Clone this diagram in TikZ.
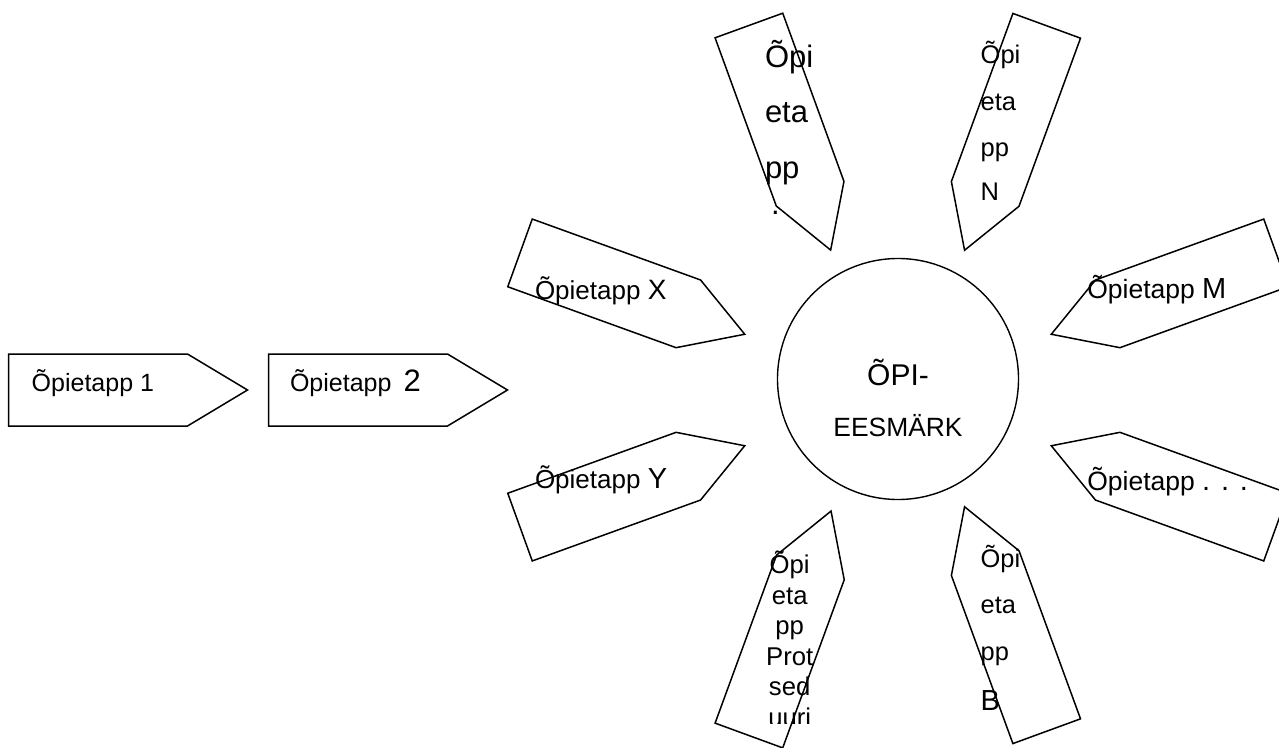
\documentclass[tikz,border=0pt]{standalone}
\usepackage{fontspec}
\setmainfont{Liberation Sans}
\newcommand{\fsz}[1]{\fontsize{#1}{#1}\selectfont}
\tikzset{
  stage/.style={draw=black, line width=1.5pt, line join=miter},
  goal/.style={draw=black, line width=1.4pt, circle, minimum size=241pt, inner sep=0pt},
  lbl/.style={anchor=base west, inner sep=0pt, outer sep=0pt},
  clbl/.style={anchor=base, inner sep=0pt, outer sep=0pt}
}
\newcommand{\stagearrow}[3]{%
  \begin{scope}[shift={(#1,#2)}, rotate=#3]
    \draw[stage] (0,-36) -- (179,-36) -- (239,0) -- (179,36) -- (0,36) -- cycle;
  \end{scope}}
\begin{document}
\begin{tikzpicture}[x=1pt, y=-1pt]
\useasboundingbox (0,0) rectangle (1279,747);
\clip (0,0) rectangle (1279,747);
% arrows (shapes)
\stagearrow{8.5}{390}{0}
\stagearrow{268.5}{390}{0}
\stagearrow{520}{252.9}{-19.9}
\stagearrow{520}{527.1}{19.9}
\stagearrow{1276}{252.9}{-160.1}
\stagearrow{1276}{527.1}{160.1}
\stagearrow{748.9}{25.5}{-70}
\stagearrow{1046.7}{25.8}{-110.1}
\stagearrow{748.9}{735.5}{69.9}
\stagearrow{1046.7}{731.2}{110.1}
% goal circle
\node[goal] (goal) at (898,379) {};
\node[clbl, font=\fsz{30}] (goalA) at (898,385) {ÕPI-};
\node[clbl, font=\fsz{26.4}] (goalB) at (898,436.7) {EESMÄRK};
% horizontal labels
\node[lbl, font=\fsz{25}] (s1) at (31.7,391.5) {Õpietapp 1};
\node[lbl, font=\fsz{25}] (s2) at (290,391) {Õpietapp {\fsz{31}\,2}};
\node[lbl, font=\fsz{26}] (sx) at (535,299) {Õpietapp {\fsz{28}X}};
\node[lbl, font=\fsz{26}] (sy) at (535,488.5) {Õpietapp {\fsz{29}Y}};
\node[lbl, font=\fsz{26.5}] (sm) at (1087.3,298.3) {Õpietapp {\fsz{29}M}};
\node[lbl, font=\fsz{26.5}] (sd) at (1087.3,490.7) {Õpietapp {\fsz{29}. . .}};
% top-left vertical label
\node[lbl, font=\fsz{31}] (tl1) at (765,67) {Õpi};
\node[lbl, font=\fsz{31}] (tl2) at (765,122) {eta};
\node[lbl, font=\fsz{31}] (tl3) at (765,178) {pp};
\node[lbl, font=\fsz{31}] (tl4) at (771,214) {.};
% top-right vertical label
\node[lbl, font=\fsz{25.5}] (tr1) at (980.7,63.3) {Õpi};
\node[lbl, font=\fsz{25.5}] (tr2) at (980.7,110) {eta};
\node[lbl, font=\fsz{25.5}] (tr3) at (980.7,156.7) {pp};
\node[lbl, font=\fsz{25.5}] (tr4) at (980.7,200) {N};
% bottom-right vertical label
\node[lbl, font=\fsz{25.4}] (br1) at (980.7,567.3) {Õpi};
\node[lbl, font=\fsz{25.4}] (br2) at (980.7,613.3) {eta};
\node[lbl, font=\fsz{25.4}] (br3) at (980.7,660) {pp};
\node[lbl, font=\fsz{29}] (br4) at (980.7,710) {B};
% bottom-left vertical label (clipped last line)
\begin{scope}
\clip (700,500) rectangle (900,723);
\node[clbl, font=\fsz{25.7}] (bl1) at (789.7,573.5) {Õpi};
\node[clbl, font=\fsz{25.7}] (bl2) at (789.7,604) {eta};
\node[clbl, font=\fsz{25.7}] (bl3) at (789.7,634.5) {pp};
\node[clbl, font=\fsz{25.7}] (bl4) at (789.7,665) {Prot};
\node[clbl, font=\fsz{25.7}] (bl5) at (789.7,695.5) {sed};
\node[clbl, font=\fsz{25.7}] (bl6) at (789.7,726) {uuri};
\end{scope}
\end{tikzpicture}
\end{document}
